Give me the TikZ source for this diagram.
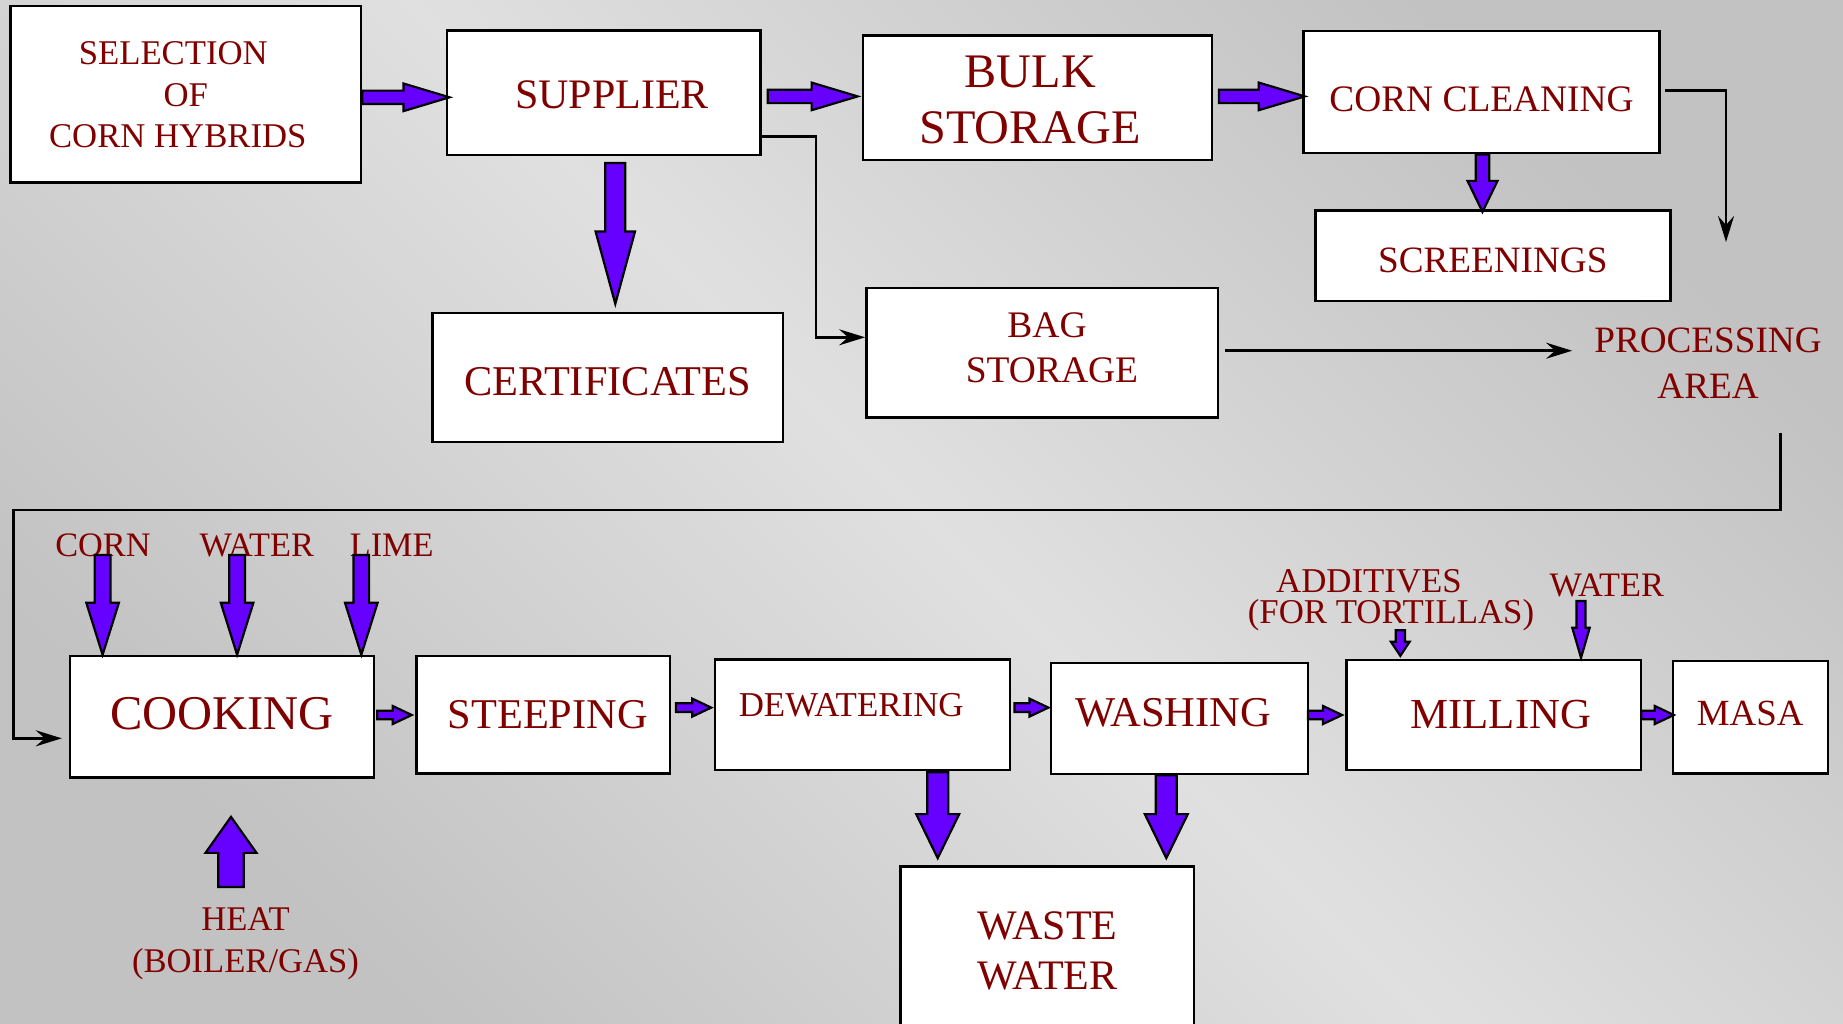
\documentclass[tikz,border=0pt]{standalone}
\usepackage{fontspec}
\setmainfont{Liberation Serif}
\usetikzlibrary{arrows.meta,calc}

\definecolor{txtred}{HTML}{800000}
\definecolor{flowpurple}{HTML}{6600FF}
\definecolor{bgdark}{HTML}{C2C2C2}
\definecolor{bglight}{HTML}{E0E0E0}

\newcommand{\setfs}[2]{\fontsize{#1pt}{#2pt}\selectfont}

% Outlined block arrow: #1 tail, #2 tip, #3 shaft half width,
% #4 head half width, #5 head length
\newcommand{\flowarrow}[5]{%
  \coordinate (ba-neck) at ($(#2)!#5!(#1)$);
  \draw[blockarrow]
    ($(#1)!#3!90:(#2)$) -- ($(ba-neck)!#3!90:(#2)$) --
    ($(ba-neck)!#4!90:(#2)$) -- (#2) --
    ($(ba-neck)!#4!-90:(#2)$) -- ($(ba-neck)!#3!-90:(#2)$) --
    ($(#1)!#3!-90:(#2)$) -- cycle;}

\tikzset{
  box/.style={draw=black, line width=2.4pt, fill=white, text=txtred, inner sep=0pt},
  lbl/.style={text=txtred, inner sep=0pt, anchor=base},
  blockarrow/.style={draw=black, fill=flowpurple, line width=2.2pt, line join=miter},
  flow/.style={draw=black, line width=2.6pt, -{Stealth[length=26pt,width=16pt,inset=9pt]}},
}

\begin{document}
\begin{tikzpicture}[x=1pt,y=-1pt]
\useasboundingbox (0,0) rectangle (1843,1023);
\clip (0,0) rectangle (1843,1023);
\shade[top color=bgdark, bottom color=bgdark, middle color=bglight, shading angle=-45]
  (0,0) rectangle (1843,1023);

% ---- process boxes ----
\node[box, align=center, minimum width=350.3pt, minimum height=176.7pt, font=\setfs{34.7}{41.2},
      text height=106pt, text depth=0pt]
  (sel) at (185.8,94.3) {SELECTION\hspace*{25pt}\\OF\hspace*{16pt}\\CORN HYBRIDS\hspace*{16pt}};
\node[box, minimum width=313.8pt, minimum height=124.6pt, font=\setfs{42}{50}, text height=32pt, text depth=0pt]
  (sup) at (603.6,92.9) {\hspace*{17pt}SUPPLIER};
\node[box, align=center, minimum width=349pt, minimum height=124.6pt, font=\setfs{48.2}{56.5},
      text height=92.7pt, text depth=0pt]
  (bulk) at (1037.3,97.6) {BULK\hspace*{14pt}\\STORAGE\hspace*{14pt}};
\node[box, minimum width=356pt, minimum height=122pt, font=\setfs{37.4}{44}, text height=38.8pt, text depth=0pt]
  (clean) at (1481.5,91.7) {CORN CLEANING};
\node[box, minimum width=355pt, minimum height=90.5pt, font=\setfs{37.2}{44}, text height=33.2pt, text depth=0pt]
  (screen) at (1492.8,255.7) {SCREENINGS};
\node[box, minimum width=350.3pt, minimum height=129.3pt, font=\setfs{42.4}{50}, text height=35.3pt, text depth=0pt]
  (cert) at (607.7,377.4) {CERTIFICATES};
\node[box, align=center, minimum width=351.4pt, minimum height=129.3pt, font=\setfs{37.5}{44.5},
      text height=59.4pt, text depth=0pt]
  (bag) at (1042,352.7) {\hspace*{10pt}BAG\\\hspace*{20pt}STORAGE};
\node[text=txtred, align=center, inner xsep=22pt, inner ysep=0pt, font=\setfs{37.2}{45.6}]
  (pa) at (1708,363) {PROCESSING\\AREA};

\node[box, minimum width=304pt, minimum height=121.7pt, font=\setfs{48.5}{56}, text height=25.5pt, text depth=0pt]
  (cook) at (222,716.8) {COOKING};
\node[box, minimum width=253.3pt, minimum height=117.4pt, font=\setfs{42.4}{50}]
  (steep) at (543.3,714.7) {\hspace*{9pt}STEEPING};
\node[box, minimum width=295pt, minimum height=110.5pt, font=\setfs{34.9}{40}, text height=3.7pt, text depth=0pt]
  (dewat) at (862.2,714.7) {DEWATERING\hspace*{22pt}};
\node[box, minimum width=257pt, minimum height=111pt, font=\setfs{42.5}{49}, text height=15.1pt, text depth=0pt]
  (wash) at (1179.5,718.5) {WASHING\hspace*{13pt}};
\node[box, minimum width=294.3pt, minimum height=110pt, font=\setfs{42.8}{50}]
  (mill) at (1493.8,715) {\hspace*{14pt}MILLING};
\node[box, minimum width=155pt, minimum height=112.6pt, font=\setfs{36.9}{44}, text height=16pt, text depth=0pt]
  (masa) at (1750.2,717) {MASA};
\node[box, align=center, minimum width=293.8pt, minimum height=167.4pt, font=\setfs{42}{49.6},
      text height=79pt, text depth=0pt]
  (waste) at (1047.3,950) {WASTE\\WATER};

% ---- thin routing lines ----
\coordinate (c1s) at ($(sup.east)+(0,43.4)$);
\coordinate (c1e) at ($(bag.west)+(0,-15.4)$);
\draw[flow] (c1s) -| ($(c1e)+(-49,0)$) -- (c1e);

\coordinate (pa-top) at (1726,242);
\draw[flow] ($(clean.east)+(4,-1)$) -| (pa-top);

\coordinate (c3s) at ($(bag.east)+(6,-2)$);
\draw[flow] (c3s) -- (c3s -| pa.west);

\coordinate (pa-bot) at (1780.5,433.3);
\coordinate (loop-l) at (13.3,510);
\draw[flow] (pa-bot) |- (loop-l) |- ($(cook.west)+(-7,21.5)$);

% ---- input / output labels ----
\node[lbl, font=\setfs{34.3}{40}] (corn) at (103,556.5) {CORN};
\node[lbl, font=\setfs{34.3}{40}] (water) at (256.7,556.5) {WATER};
\node[lbl, font=\setfs{34.3}{40}] (lime) at (391.7,556.5) {LIME};
\node[lbl, font=\setfs{34.8}{40}] (addA) at (1369,592) {ADDITIVES};
\node[lbl, font=\setfs{34.8}{40}] (addB) at (1391,623.5) {(FOR TORTILLAS)};
\node[lbl, font=\setfs{34.3}{40}] (mwater) at (1606.7,596) {WATER};
\node[lbl, font=\setfs{34.6}{40}] (heatA) at (245.5,930) {HEAT};
\node[lbl, font=\setfs{34.6}{40}] (heatB) at (245.5,972.3) {(BOILER/GAS)};

% ---- block arrows, top row ----
\coordinate (a1s) at ($(sel.east)+(0,3)$);
\coordinate (a1e) at ($(a1s -| sup.west)+(4,0)$);
\flowarrow{a1s}{a1e}{6.7pt}{13.8pt}{46pt}
\coordinate (a2s) at ($(sup.east)+(6,3.5)$);
\coordinate (a2e) at ($(a2s -| bulk.west)+(-4,0)$);
\flowarrow{a2s}{a2e}{6.7pt}{13.8pt}{46pt}
\coordinate (a3s) at ($(bulk.east)+(6,-1.2)$);
\coordinate (a3e) at ($(a3s -| clean.west)+(2.5,0)$);
\flowarrow{a3s}{a3e}{6.7pt}{13.8pt}{46pt}

\coordinate (a4s) at ($(sup.south)+(11.7,6.5)$);
\coordinate (a4e) at ($(a4s |- cert.north)+(0,-7.7)$);
\flowarrow{a4s}{a4e}{10pt}{19.7pt}{72.3pt}
\coordinate (a5s) at ($(clean.south)+(1,0.7)$);
\coordinate (a5e) at ($(a5s |- screen.north)+(0,2.6)$);
\flowarrow{a5s}{a5e}{6.8pt}{15pt}{31pt}

% ---- block arrows into cooking ----
\coordinate (a6e) at ($(cook.north west)+(33.8,0)$);
\coordinate (a6s) at ($(corn.base -| a6e)+(0,-1.5)$);
\flowarrow{a6s}{a6e}{7.8pt}{16.3pt}{52pt}
\coordinate (a7e) at ($(cook.north west)+(168.3,0)$);
\coordinate (a7s) at ($(water.base -| a7e)+(0,-1.5)$);
\flowarrow{a7s}{a7e}{7.8pt}{16.3pt}{52pt}
\coordinate (a8e) at ($(cook.north west)+(292.5,0)$);
\coordinate (a8s) at ($(lime.base -| a8e)+(0,-1.5)$);
\flowarrow{a8s}{a8e}{7.8pt}{16.3pt}{52pt}
\coordinate (a9e) at ($(cook.south)+(9,38)$);
\coordinate (a9s) at ($(a9e |- heatA.base)+(0,-43)$);
\flowarrow{a9s}{a9e}{12.8pt}{25.5pt}{36pt}

% ---- block arrows to waste water ----
\coordinate (a10s) at ($(dewat.south)+(75.5,1)$);
\coordinate (a10e) at ($(a10s |- waste.north)+(0,-7)$);
\flowarrow{a10s}{a10e}{10.5pt}{21.5pt}{44pt}
\coordinate (a11s) at ($(wash.south)+(-13.2,0)$);
\coordinate (a11e) at ($(a11s |- waste.north)+(0,-7)$);
\flowarrow{a11s}{a11e}{10.5pt}{21.5pt}{44pt}

% ---- block arrows into milling ----
\coordinate (a12e) at ($(mill.north)+(-93.5,-3)$);
\coordinate (a12s) at ($(a12e |- addB.base)+(0,6.7)$);
\flowarrow{a12s}{a12e}{4.6pt}{9.3pt}{14pt}
\coordinate (a13e) at ($(mill.north)+(87.2,-1)$);
\coordinate (a13s) at ($(a13e |- mwater.base)+(0,5)$);
\flowarrow{a13s}{a13e}{4.5pt}{8.7pt}{30pt}

% ---- block arrows along the bottom chain ----
\coordinate (a14s) at ($(cook.east)+(2,-1.8)$);
\coordinate (a14e) at ($(a14s -| steep.west)+(-3.7,0)$);
\flowarrow{a14s}{a14e}{4.3pt}{9pt}{19pt}
\coordinate (a15s) at ($(steep.east)+(4.7,-7.1)$);
\coordinate (a15e) at ($(a15s -| dewat.west)+(-2.3,0)$);
\flowarrow{a15s}{a15e}{4.3pt}{9pt}{19pt}
\coordinate (a16s) at ($(dewat.east)+(3.5,-7.1)$);
\coordinate (a16e) at ($(a16s -| wash.west)+(-1.4,0)$);
\flowarrow{a16s}{a16e}{4.3pt}{9pt}{19pt}
\coordinate (a17s) at ($(wash.east)+(-1.3,-3.5)$);
\coordinate (a17e) at ($(a17s -| mill.west)+(-3.4,0)$);
\flowarrow{a17s}{a17e}{4.3pt}{9pt}{19pt}
\coordinate (a18s) at ($(mill.east)+(-1,0)$);
\coordinate (a18e) at ($(a18s -| masa.west)+(2.3,0)$);
\flowarrow{a18s}{a18e}{4.3pt}{9pt}{19pt}
\end{tikzpicture}
\end{document}
